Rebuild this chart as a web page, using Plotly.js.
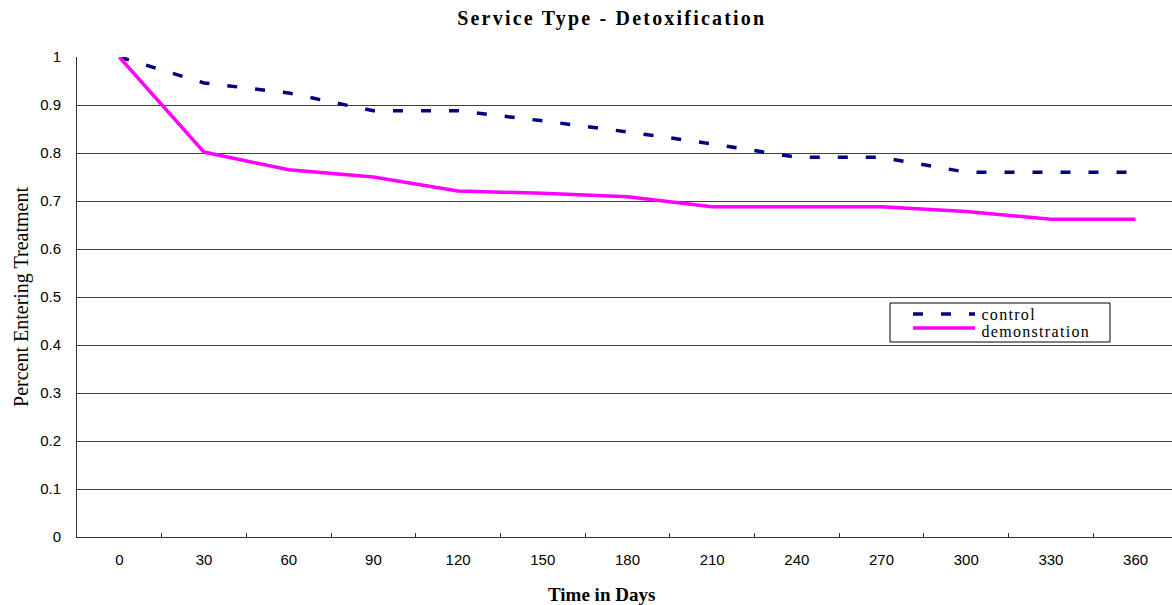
<!DOCTYPE html>
<html>
<head>
<meta charset="utf-8">
<script src="https://cdn.plot.ly/plotly-3.0.1.min.js"></script>
<style>
html,body{margin:0;padding:0;background:#fff}
#chart{width:1172px;height:605px}
.gtitle{letter-spacing:2.2px}
.annotation[data-index="1"] text, .annotation[data-index="2"] text{letter-spacing:1.3px}
</style>
</head>
<body>
<div id="chart"></div>
<script>
const days = ["0","30","60","90","120","150","180","210","240","270","300","330","360"];
const control = [1.0,0.946,0.925,0.888,0.888,0.867,0.844,0.819,0.791,0.791,0.760,0.760,0.760];
const demonstration = [1.0,0.802,0.765,0.750,0.721,0.716,0.709,0.688,0.688,0.688,0.678,0.662,0.662];
const yTicks = [0,0.1,0.2,0.3,0.4,0.5,0.6,0.7,0.8,0.9,1];
const yTickText = ["0","0.1","0.2","0.3","0.4","0.5","0.6","0.7","0.8","0.9","1"];
const seriesNames = ["control","demonstration"];
const seriesColors = ["#000080","#FF00FF"];

const serif = "Liberation Serif, Times New Roman, serif";
const sans = "Liberation Sans, Arial, sans-serif";

const traces = [
  {x: days, y: control, name: seriesNames[0], type: "scatter", mode: "lines",
   line: {color: seriesColors[0], width: 3.5, dash: "10px,18px"}},
  {x: days, y: demonstration, name: seriesNames[1], type: "scatter", mode: "lines",
   line: {color: seriesColors[1], width: 3.5}}
];

// legend box geometry in pixels (converted to paper coords)
const L = 77, W = 1095, B = 537, H = 480;
const px = v => (v - L) / W;
const py = v => (B - v) / H;

const shapes = [
  {type: "rect", xref: "paper", yref: "paper", x0: px(890), x1: px(1110), y0: py(303), y1: py(342),
   line: {color: "#000", width: 1}, fillcolor: "#fff", layer: "above"},
  {type: "line", xref: "paper", yref: "paper", x0: px(913), x1: px(975), y0: py(314), y1: py(314),
   line: {color: seriesColors[0], width: 3.5, dash: "10px,18px"}, layer: "above"},
  {type: "line", xref: "paper", yref: "paper", x0: px(913), x1: px(975), y0: py(328), y1: py(328),
   line: {color: seriesColors[1], width: 3.5}, layer: "above"}
];

const annotations = [
  {text: "<b>Time in Days</b>", xref: "paper", yref: "paper", x: px(601), y: py(594),
   xanchor: "center", yanchor: "middle", showarrow: false,
   font: {family: serif, size: 19, color: "#000"}},
  {text: seriesNames[0], xref: "paper", yref: "paper", x: px(984), y: py(314),
   xanchor: "left", yanchor: "middle", showarrow: false,
   font: {family: serif, size: 16, color: "#000"}},
  {text: seriesNames[1], xref: "paper", yref: "paper", x: px(988), y: py(331),
   xanchor: "left", yanchor: "middle", showarrow: false,
   font: {family: serif, size: 16, color: "#000"}}
];

const layout = {
  width: 1172, height: 605,
  margin: {l: 77, r: 0, t: 57, b: 68},
  paper_bgcolor: "#fff", plot_bgcolor: "#fff",
  showlegend: false,
  title: {text: "<b>Service Type - Detoxification</b>", x: 0.522, xanchor: "center", y: 0.97, yanchor: "middle",
          font: {family: serif, size: 20, color: "#000"}},
  xaxis: {
    type: "category", range: [-0.5, 12.43],
    tickson: "boundaries", ticks: "inside", ticklen: 4, tickcolor: "#333",
    showline: true, linecolor: "#333", linewidth: 1,
    showgrid: false, zeroline: false,
    tickfont: {family: sans, size: 15, color: "#000"},
    ticklabelstandoff: 9, fixedrange: true
  },
  yaxis: {
    range: [0, 1], tickvals: yTicks, ticktext: yTickText,
    showline: true, linecolor: "#333", linewidth: 1,
    showgrid: true, gridcolor: "#404040", gridwidth: 1, zeroline: false,
    ticks: "", ticklabelstandoff: 12,
    tickfont: {family: sans, size: 15, color: "#000"},
    title: {text: "Percent Entering Treatment", standoff: 6,
            font: {family: serif, size: 20, color: "#000"}},
    fixedrange: true
  },
  shapes: shapes,
  annotations: annotations
};

Plotly.newPlot("chart", traces, layout, {displayModeBar: false, staticPlot: true});
</script>
</body>
</html>
